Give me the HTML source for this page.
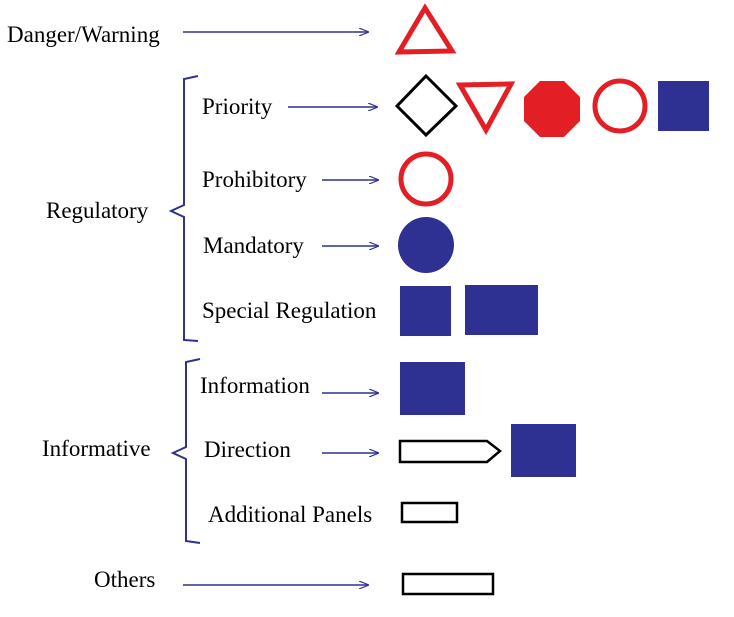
<!DOCTYPE html>
<html><head><style>body{margin:0;background:#fff}svg{display:block}text{font-family:"Liberation Serif",serif;font-size:23px;fill:#000}</style></head>
<body>
<svg width="734" height="617" viewBox="0 0 734 617">
<defs><marker id="a" markerWidth="10" markerHeight="8" refX="9" refY="4" orient="auto" markerUnits="userSpaceOnUse"><path d="M0,0 L10,4 L0,8" fill="none" stroke="#2e3192" stroke-width="1.2"/></marker></defs>
<g stroke="#2e3192" stroke-width="1.5" marker-end="url(#a)">
<line x1="183" y1="32" x2="368" y2="32"/>
<line x1="288" y1="107" x2="377" y2="107"/>
<line x1="322" y1="180" x2="378" y2="180"/>
<line x1="322" y1="246" x2="378" y2="246"/>
<line x1="322" y1="393" x2="378" y2="393"/>
<line x1="322" y1="453" x2="378" y2="453"/>
<line x1="183" y1="585" x2="368" y2="585"/>
</g>
<g fill="none" stroke="#2e3192" stroke-width="2">
<path d="M198,76 L184,79 L184,205 L171,211 L184,217 L184,340 L198,341"/>
<path d="M200,359 L186,362 L186,447 L173,453 L186,459 L186,541 L200,543"/>
</g>
<text x="7" y="42">Danger/Warning</text>
<text x="46" y="218">Regulatory</text>
<text x="202" y="114">Priority</text>
<text x="202" y="187">Prohibitory</text>
<text x="203" y="253">Mandatory</text>
<text x="202" y="318">Special Regulation</text>
<text x="42" y="456">Informative</text>
<text x="200" y="393">Information</text>
<text x="204" y="457">Direction</text>
<text x="208" y="522">Additional Panels</text>
<text x="94" y="587">Others</text>
<polygon points="425,8 452,51 399,52" fill="none" stroke="#e31e24" stroke-width="5" stroke-linejoin="miter"/>
<polygon points="426,76 456,106 426,135 397,106" fill="none" stroke="#000" stroke-width="3"/>
<polygon points="460,85 511,84 486,130" fill="none" stroke="#e31e24" stroke-width="5"/>
<polygon points="540,81 564,81 580,97 580,121 564,137 540,137 524,121 524,97" fill="#e31e24"/>
<circle cx="620" cy="106" r="25" fill="none" stroke="#e31e24" stroke-width="5"/>
<rect x="658" y="81" width="51" height="50" fill="#2e3192"/>
<circle cx="426" cy="179" r="25" fill="none" stroke="#e31e24" stroke-width="5"/>
<circle cx="426" cy="245" r="28" fill="#2e3192"/>
<rect x="400" y="286" width="51" height="50" fill="#2e3192"/>
<rect x="465" y="285" width="73" height="50" fill="#2e3192"/>
<rect x="400" y="362" width="65" height="53" fill="#2e3192"/>
<polygon points="400,441 487,441 500,451 487,462 400,462" fill="none" stroke="#000" stroke-width="2.5"/>
<rect x="511" y="424" width="65" height="53" fill="#2e3192"/>
<rect x="402" y="503" width="55" height="19" fill="none" stroke="#000" stroke-width="2.5"/>
<rect x="403" y="574" width="90" height="20" fill="none" stroke="#000" stroke-width="2.5"/>
</svg>
</body></html>
